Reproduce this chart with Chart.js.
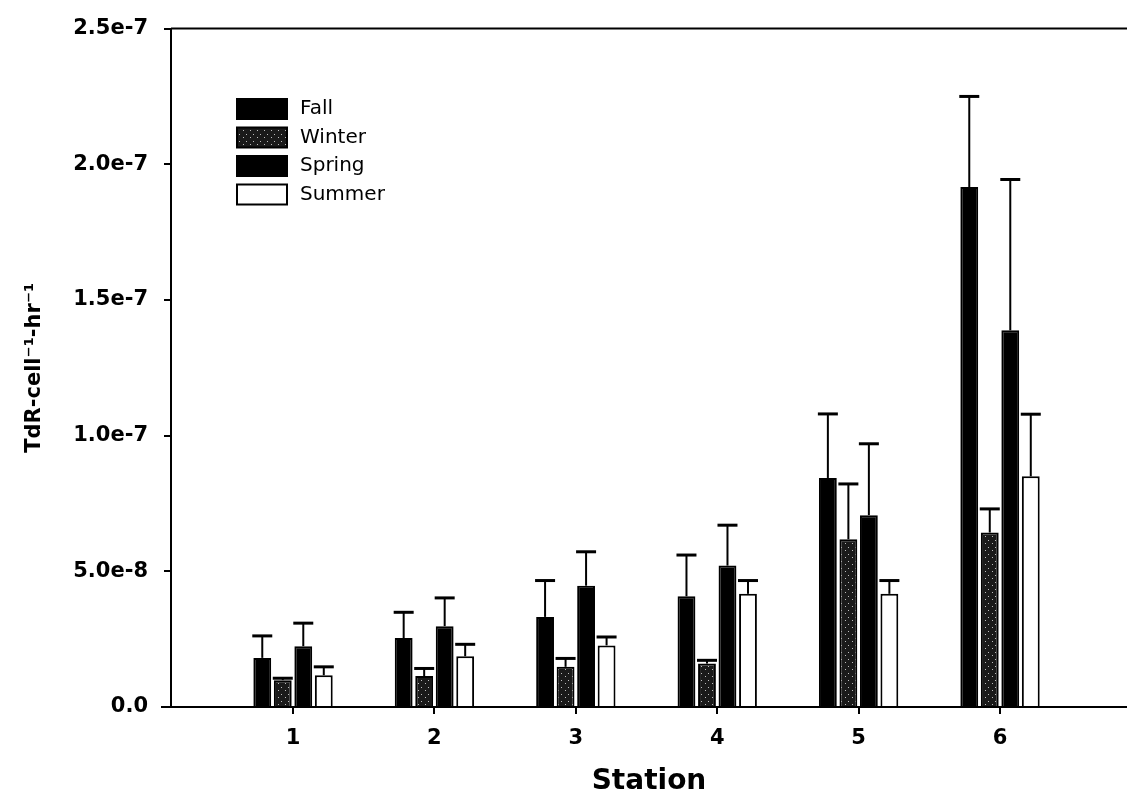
<!DOCTYPE html>
<html>
<head>
<meta charset="utf-8">
<script src="https://cdn.jsdelivr.net/npm/chart.js@4.4.1/dist/chart.umd.min.js"></script>
<style>
  html, body { margin: 0; padding: 0; background: #fff; }
  #wrap { width: 1127px; height: 801px; position: relative; }
</style>
</head>
<body>
<div id="wrap"><canvas id="chart"></canvas></div>
<script>
// data
const stations = [1, 2, 3, 4, 5, 6];
const seasons = ['Fall', 'Winter', 'Spring', 'Summer'];

const fall      = [1.81e-8, 2.54e-8, 3.32e-8, 4.08e-8, 8.44e-8, 1.916e-7];
const fallErr   = [0.81e-8, 0.95e-8, 1.34e-8, 1.52e-8, 2.36e-8, 3.34e-8];
const winter    = [0.99e-8, 1.14e-8, 1.48e-8, 1.60e-8, 6.18e-8, 6.43e-8];
const winterErr = [0.07e-8, 0.28e-8, 0.31e-8, 0.12e-8, 2.04e-8, 0.87e-8];
const spring    = [2.24e-8, 2.98e-8, 4.47e-8, 5.21e-8, 7.07e-8, 1.388e-7];
const springErr = [0.85e-8, 1.04e-8, 1.25e-8, 1.49e-8, 2.63e-8, 5.56e-8];
const summer    = [1.17e-8, 1.87e-8, 2.27e-8, 4.17e-8, 4.17e-8, 8.50e-8];
const summerErr = [0.31e-8, 0.44e-8, 0.31e-8, 0.49e-8, 0.49e-8, 2.29e-8];

const yTickLabels = ['0.0', '5.0e-8', '1.0e-7', '1.5e-7', '2.0e-7', '2.5e-7'];

const canvas = document.getElementById('chart');
const ctx = canvas.getContext('2d');

// dark stipple for the winter bars
function stipple() {
    const tile = document.createElement('canvas');
    tile.width = 7; tile.height = 7;
    const g = tile.getContext('2d');
    g.fillStyle = '#1a1a1a';
    g.fillRect(0, 0, 7, 7);
    g.fillStyle = '#bdbdbd';
    g.fillRect(1, 1, 1, 1);
    g.fillRect(5, 4, 1, 1);
    return ctx.createPattern(tile, 'repeat');
}
const winterFill = stipple();

const toPoints = arr => arr.map((v, i) => ({ x: stations[i], y: v }));

const series = [
    { label: seasons[0], values: fall,   errors: fallErr,   fill: '#000' },
    { label: seasons[1], values: winter, errors: winterErr, fill: winterFill },
    { label: seasons[2], values: spring, errors: springErr, fill: '#000' },
    { label: seasons[3], values: summer, errors: summerErr, fill: '#fff' }
];

const errorBars = {
    id: 'errorBars',
    afterDatasetsDraw(chart) {
        const c = chart.ctx;
        const y = chart.scales.y;
        c.save();
        c.strokeStyle = '#000';
        chart.data.datasets.forEach((ds, di) => {
            const meta = chart.getDatasetMeta(di);
            meta.data.forEach((bar, i) => {
                const top = y.getPixelForValue(ds.data[i].y + ds.errors[i]);
                c.lineWidth = 2;
                c.beginPath();
                c.moveTo(bar.x, bar.y);
                c.lineTo(bar.x, top);
                c.stroke();
                c.lineWidth = 3;
                c.beginPath();
                c.moveTo(bar.x - 10, top);
                c.lineTo(bar.x + 10, top);
                c.stroke();
            });
        });
        c.restore();
    }
};

const frame = {
    id: 'frame',
    afterDraw(chart) {
        const c = chart.ctx;
        const a = chart.chartArea;
        c.save();
        c.strokeStyle = '#000';
        c.lineWidth = 2;
        c.beginPath();
        c.moveTo(a.left, a.top);
        c.lineTo(a.right, a.top);
        c.moveTo(a.left - 10, a.bottom);
        c.lineTo(a.left, a.bottom);
        c.stroke();

        // legend inside the plot
        c.font = '20px "DejaVu Sans"';
        c.textBaseline = 'middle';
        c.textAlign = 'left';
        chart.data.datasets.forEach((ds, i) => {
            const sx = a.left + 66, sy = 99 + i * 28.5;
            c.fillStyle = ds.backgroundColor;
            c.fillRect(sx, sy, 50, 20);
            c.lineWidth = 2;
            c.strokeRect(sx, sy, 50, 20);
            c.fillStyle = '#000';
            c.fillText(ds.label, sx + 63, sy + 10);
        });
        c.restore();
    }
};

new Chart(ctx, {
    type: 'bar',
    data: {
        datasets: series.map(s => ({
            label: s.label,
            data: toPoints(s.values),
            errors: s.errors,
            backgroundColor: s.fill,
            borderColor: '#000',
            borderWidth: 2,
            categoryPercentage: 0.58,
            barPercentage: 0.87
        }))
    },
    options: {
        responsive: true,
        maintainAspectRatio: false,
        animation: false,
        layout: { padding: { top: 25, right: 0, left: 0, bottom: 0 } },
        plugins: {
            legend: { display: false },
            tooltip: { enabled: false }
        },
        scales: {
            x: {
                type: 'linear',
                offset: false,
                min: 0.137,
                max: 6.898,
                afterBuildTicks: axis => { axis.ticks = stations.map(v => ({ value: v })); },
                afterFit: axis => { axis.height = 94; },
                grid: { display: true, offset: false, drawOnChartArea: false, drawTicks: true, tickLength: 7, color: '#000', lineWidth: 2 },
                border: { display: true, color: '#000', width: 2 },
                ticks: {
                    color: '#000',
                    padding: 12,
                    font: { family: 'DejaVu Sans', size: 21, weight: 'bold' },
                    callback: v => String(v)
                },
                title: {
                    display: true,
                    text: 'Station',
                    color: '#000',
                    font: { family: 'DejaVu Sans', size: 28, weight: 'bold' },
                    padding: { top: 0, bottom: 2 }
                }
            },
            y: {
                min: 0,
                max: 2.5e-7,
                afterBuildTicks: axis => { axis.ticks = yTickLabels.map((t, i) => ({ value: i * 5e-8 })); },
                afterFit: axis => { axis.width = 171; },
                grid: { display: true, drawOnChartArea: false, drawTicks: true, tickLength: 7, color: '#000', lineWidth: 2 },
                border: { display: true, color: '#000', width: 2 },
                ticks: {
                    color: '#000',
                    padding: 16,
                    font: { family: 'DejaVu Sans', size: 21, weight: 'bold' },
                    callback: (v, i) => yTickLabels[i]
                },
                title: {
                    display: true,
                    text: 'TdR-cell⁻¹-hr⁻¹',
                    color: '#000',
                    font: { family: 'DejaVu Sans', size: 21, weight: 'bold' },
                    padding: { top: 22, bottom: 0 }
                }
            }
        }
    },
    plugins: [errorBars, frame]
});
</script>
</body>
</html>
